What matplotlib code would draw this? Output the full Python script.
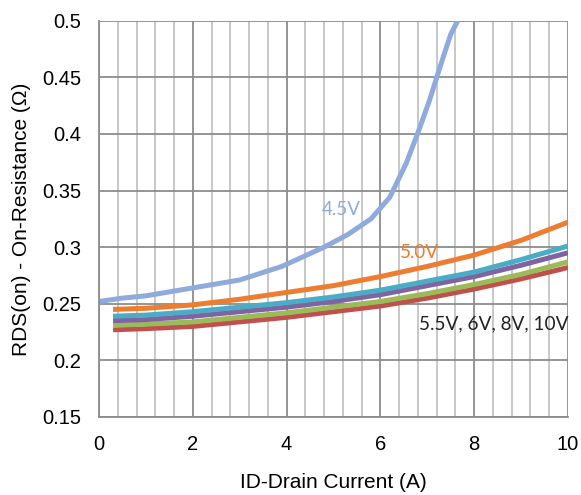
import numpy as np
import matplotlib.pyplot as plt
from matplotlib.ticker import MultipleLocator

# drain current (A) and on-resistance (ohm) per gate voltage
id_45 = [0.0, 0.5, 1.0, 2.0, 3.0, 3.9, 4.8, 5.3, 5.8, 6.2, 6.55, 6.8, 7.05, 7.27, 7.5, 7.65]
r_45 = [0.252, 0.255, 0.257, 0.264, 0.271, 0.283, 0.300, 0.311, 0.325, 0.344, 0.374,
        0.401, 0.430, 0.459, 0.488, 0.500]

id_hi = [0.3, 1, 2, 3, 4, 5, 6, 7, 8, 9, 10]
r_50 = [0.245, 0.246, 0.249, 0.254, 0.260, 0.266, 0.274, 0.283, 0.293, 0.306, 0.322]
r_55 = [0.239, 0.240, 0.243, 0.247, 0.251, 0.256, 0.262, 0.270, 0.278, 0.289, 0.301]
r_6 = [0.235, 0.236, 0.239, 0.243, 0.247, 0.252, 0.258, 0.266, 0.274, 0.284, 0.295]
r_8 = [0.231, 0.232, 0.234, 0.238, 0.242, 0.247, 0.252, 0.259, 0.267, 0.276, 0.287]
r_10 = [0.227, 0.228, 0.230, 0.234, 0.238, 0.243, 0.248, 0.255, 0.263, 0.272, 0.282]

plt.rcParams['font.family'] = ['Liberation Sans', 'DejaVu Sans']

fig = plt.figure(figsize=(5.81, 4.95), dpi=100)
ax = fig.add_axes([0.1704, 0.1576, 0.8072, 0.8006])

lw = 3.6
ax.plot(id_hi, r_10, color='#c0504d', lw=lw, solid_capstyle='butt')
ax.plot(id_hi, r_8, color='#9bbb59', lw=lw, solid_capstyle='butt')
ax.plot(id_hi, r_6, color='#8064a2', lw=lw, solid_capstyle='butt')
ax.plot(id_hi, r_55, color='#4bacc6', lw=lw, solid_capstyle='butt')
ax.plot(id_hi, r_50, color='#ed7d31', lw=lw, solid_capstyle='butt')
ax.plot(id_45, r_45, color='#8faadc', lw=lw, solid_capstyle='butt')

ax.set_xlim(0, 10)
ax.set_ylim(0.15, 0.5)
ax.xaxis.set_major_locator(MultipleLocator(2))
ax.xaxis.set_minor_locator(MultipleLocator(0.4))
ax.yaxis.set_major_locator(MultipleLocator(0.05))
ax.yaxis.set_major_formatter(plt.FuncFormatter(lambda v, p: f'{v:g}'))

ax.grid(which='major', color='#8c8c8c', lw=1.3)
ax.grid(which='minor', axis='x', color='#c4c4c4', lw=1.3)
ax.set_axisbelow(True)
for s in ['top', 'right']:
    ax.spines[s].set_visible(False)
for s in ['left', 'bottom']:
    ax.spines[s].set_color('#8c8c8c')
    ax.spines[s].set_linewidth(1.3)
ax.tick_params(which='both', length=0, labelsize=14.5)
ax.tick_params(axis='y', pad=13)
ax.tick_params(axis='x', pad=13)

ax.set_xlabel('ID-Drain Current (A)', fontsize=15, labelpad=14)
ax.set_ylabel('RDS(on) - On-Resistance (Ω)', fontsize=15, labelpad=8)

lbl = ['Lato', 'DejaVu Sans']
ax.text(4.75, 0.333, '4.5V', color='#8faadc', fontsize=13.5, family=lbl, va='center')
ax.text(6.42, 0.295, '5.0V', color='#ed7d31', fontsize=13.5, family=lbl, va='center')
ax.text(6.83, 0.232, '5.5V, 6V, 8V, 10V', color='#222222', fontsize=13.7, family=lbl, va='center')

fig.savefig('out.png', dpi=100)
